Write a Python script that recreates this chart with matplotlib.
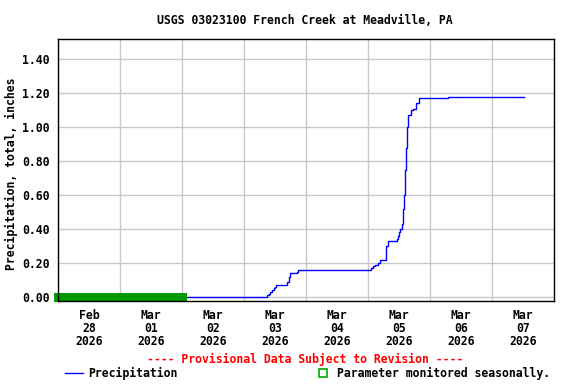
import matplotlib
matplotlib.use("Agg")
import matplotlib.pyplot as plt
import pandas as pd

# cumulative precipitation, inches (step record)
times = ["2026-03-02 01:55", "2026-03-03 08:45", "2026-03-03 09:05", "2026-03-03 09:35",
         "2026-03-03 10:05", "2026-03-03 10:50", "2026-03-03 11:30", "2026-03-03 12:00",
         "2026-03-03 12:25", "2026-03-03 16:50", "2026-03-03 17:15", "2026-03-03 17:45",
         "2026-03-03 20:25", "2026-03-03 21:00", "2026-03-05 01:05", "2026-03-05 01:55",
         "2026-03-05 02:50", "2026-03-05 04:00", "2026-03-05 04:40", "2026-03-05 06:55",
         "2026-03-05 07:50", "2026-03-05 11:05", "2026-03-05 11:30", "2026-03-05 12:00",
         "2026-03-05 12:25", "2026-03-05 13:00", "2026-03-05 13:25", "2026-03-05 13:40",
         "2026-03-05 14:00", "2026-03-05 14:25", "2026-03-05 14:35", "2026-03-05 15:00",
         "2026-03-05 15:35", "2026-03-05 16:35", "2026-03-05 17:30", "2026-03-05 18:35",
         "2026-03-05 19:35", "2026-03-06 06:50", "2026-03-07 12:30"]
precip = [0.00, 0.00, 0.01, 0.02,
          0.03, 0.04, 0.05, 0.06,
          0.07, 0.09, 0.12, 0.14,
          0.15, 0.16, 0.17, 0.18,
          0.19, 0.20, 0.22, 0.30,
          0.33, 0.34, 0.36, 0.38,
          0.40, 0.43, 0.46, 0.52,
          0.60, 0.75, 0.88, 1.00,
          1.07, 1.10, 1.11, 1.14,
          1.17, 1.18, 1.18]

# period shown as "monitored seasonally" (no data)
season_start = "2026-02-27 22:30"
season_end = "2026-03-02 01:55"

yticks = [0.0, 0.2, 0.4, 0.6, 0.8, 1.0, 1.2, 1.4]
days = pd.date_range("2026-02-28", "2026-03-08", freq="D")

MONO = "DejaVu Sans Mono"
FS = 8.3
TXT = dict(fontfamily=MONO, fontweight="bold", fontsize=FS)

t = pd.to_datetime(times)
fig = plt.figure(figsize=(5.76, 3.84), dpi=100)
ax = fig.add_axes([58 / 576, 1 - 300.7 / 384, 496 / 576, 261.7 / 384])

ax.plot(t, precip, drawstyle="steps-post", color="#0000ff", lw=1.0, zorder=3)
ax.fill_between(pd.to_datetime([season_start, season_end]), -0.028, 0.024,
                color="#009900", lw=0, zorder=4, clip_on=False)

ax.set_xlim(days[0], days[-1])
ax.set_ylim(-0.022, 1.52)

ax.set_xticks(days)
ax.set_xticklabels([])
ax.set_xticks(days[:-1] + pd.Timedelta(hours=12), minor=True)
ax.set_xticklabels([f"{d:%b}\n{d:%d}\n{d:%Y}" for d in days[:-1]], minor=True,
                   linespacing=0.98, **TXT)
ax.set_yticks(yticks)
ax.set_yticklabels([f"{v:.2f}" for v in yticks], **TXT)
ax.tick_params(which="both", length=0)
ax.tick_params(axis="x", which="minor", pad=6)
ax.tick_params(axis="y", pad=6)
ax.grid(True, which="major", color="#c8c8c8", lw=1.0)
ax.set_axisbelow(True)
for s in ax.spines.values():
    s.set_linewidth(1.0)
    s.set_zorder(5)

fig.text(11.5 / 576, 1 - 174 / 384, "Precipitation, total, inches", rotation=90,
         ha="center", va="center", **TXT)
fig.text(305 / 576, 1 - 20 / 384, "USGS 03023100 French Creek at Meadville, PA",
         ha="center", va="center", **TXT)
fig.text(305 / 576, 1 - 359 / 384, "---- Provisional Data Subject to Revision ----",
         ha="center", va="center", color="#ff0000", **TXT)

# legend row
fig.add_artist(plt.Line2D([65 / 576, 83 / 576], [1 - 372.5 / 384] * 2,
                          color="#0000ff", lw=1.0))
fig.text(88 / 576, 1 - 373 / 384, "Precipitation", ha="left", va="center", **TXT)
fig.add_artist(plt.Rectangle((318.5 / 576, 1 - 377 / 384), 8 / 576, 8 / 384,
                             fill=False, edgecolor="#00aa00", lw=1.2))
fig.text(337 / 576, 1 - 373 / 384, "Parameter monitored seasonally.", ha="left",
         va="center", **TXT)

fig.savefig("out.png", dpi=100)
